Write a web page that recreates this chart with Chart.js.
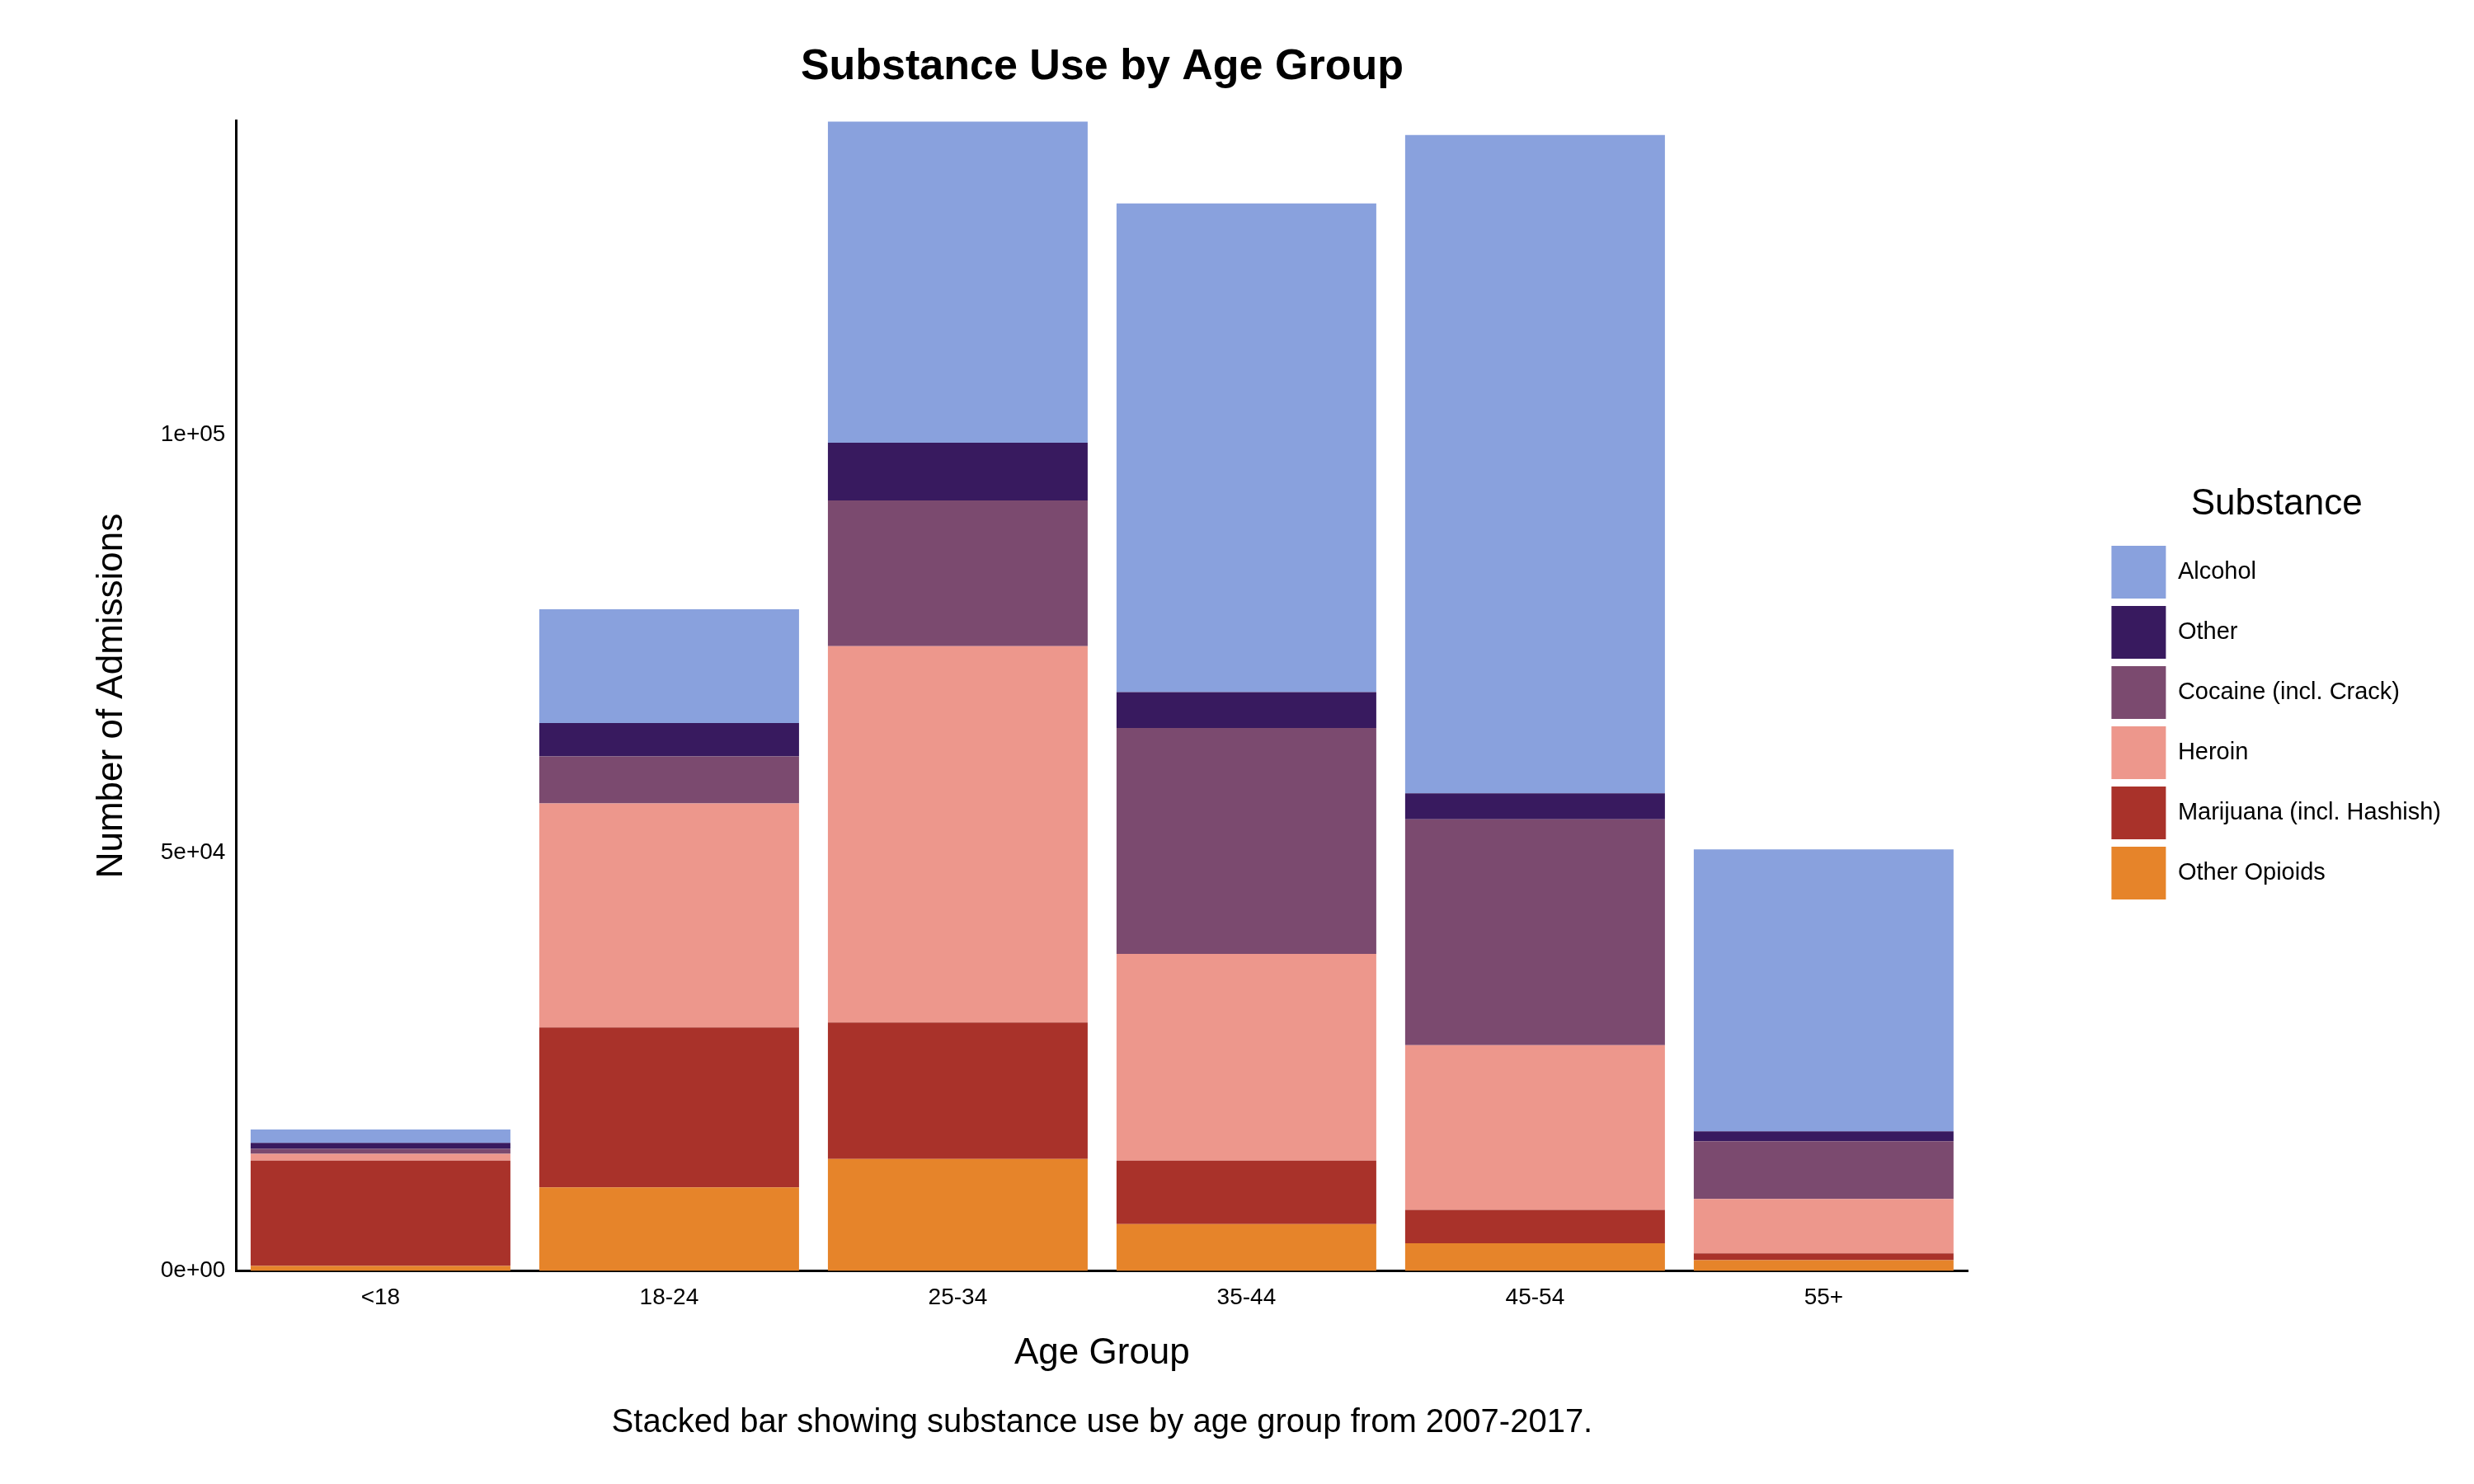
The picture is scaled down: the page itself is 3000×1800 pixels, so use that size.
<!DOCTYPE html>
<html><head><meta charset="utf-8">
<script src="https://cdn.jsdelivr.net/npm/chart.js@4"></script>
<style>html,body{margin:0;padding:0;background:#fff}#wrap{width:3000px;height:1800px}</style>
</head><body><div id="wrap"><canvas id="c" width="3000" height="1800"></canvas></div>
<script>
const categories = ["<18","18-24","25-34","35-44","45-54","55+"];
const otherOpioids = [600,10000,13400,5600,3300,1300];
const marijuana = [12600,19100,16300,7600,4000,800];
const heroin = [800,26800,45000,24700,19700,6500];
const cocaine = [600,5600,17400,27000,27000,6900];
const other = [700,4000,6900,4300,3100,1200];
const alcohol = [1600,13600,38400,58400,78700,33700];
const yTicks = [0,50000,100000];
const yTickLabels = ["0e+00","5e+04","1e+05"];

const EXTRA = 165;
const F = "'Liberation Sans', Arial, sans-serif";
const layoutFix = {
  id: 'layoutFix',
  beforeInit(chart) {
    const lg = chart.legend;
    const origFit = lg.fit;
    lg.fit = function () { origFit.call(this); this.width += EXTRA; this.minSize && (this.minSize.width = this.width); };
  },
  afterLayout(chart) {
    const lg = chart.legend;
    lg.left += EXTRA; lg.width -= EXTRA;
    lg.top -= 50; lg.bottom -= 50;
    const ca = chart.chartArea;
    chart.boxes.forEach(b => {
      if (b.options && b.options.text && (b.position === 'top' || b.position === 'bottom') && !b.axis) {
        b.left = ca.left; b.right = ca.right; b.width = ca.right - ca.left;
      }
    });
  }
};
const ds = (label, data, color) => ({label, data, backgroundColor: color, borderWidth: 0, barPercentage: 0.9, categoryPercentage: 1});
new Chart(document.getElementById('c'), {
  type: 'bar',
  data: { labels: categories, datasets: [
    ds("Other Opioids", otherOpioids, "#E6842A"),
    ds("Marijuana (incl. Hashish)", marijuana, "#A9322A"),
    ds("Heroin", heroin, "#ED978C"),
    ds("Cocaine (incl. Crack)", cocaine, "#7B4A6F"),
    ds("Other", other, "#381A5F"),
    ds("Alcohol", alcohol, "#89A1DD")
  ]},
  plugins: [layoutFix],
  options: {
    responsive: false, devicePixelRatio: 1, animation: false,
    layout: { padding: { left: 105, right: 30, top: 30, bottom: 40 } },
    plugins: {
      title: { display: true, text: "Substance Use by Age Group", color: "#000", font: { family: F, size: 52, weight: 'bold' }, padding: { top: 20, bottom: 34 } },
      subtitle: { display: true, position: 'bottom', text: "Stacked bar showing substance use by age group from 2007-2017.", color: "#000", font: { family: F, size: 40 }, padding: { top: 30, bottom: 10 } },
      legend: { position: 'right', reverse: true,
        title: { display: true, text: "Substance", color: "#000", font: { family: F, size: 44 }, padding: { bottom: 10 } },
        labels: { boxWidth: 66, boxHeight: 64, padding: 9, color: "#000", font: { family: F, size: 29 } } },
      tooltip: { enabled: false }
    },
    scales: {
      x: { stacked: true, grid: { display: false, drawTicks: true, tickLength: 10 },
        border: { color: "#000", width: 3 },
        ticks: { color: "#000", font: { family: F, size: 28 }, padding: 6 },
        title: { display: true, text: "Age Group", color: "#000", font: { family: F, size: 44 }, padding: { top: 18 } } },
      y: { stacked: true, min: 0, max: 137500,
        grid: { display: false, drawTicks: true, tickLength: 10 },
        border: { color: "#000", width: 3 },
        afterBuildTicks: s => { s.ticks = yTicks.map(v => ({value: v})); },
        ticks: { color: "#000", font: { family: F, size: 28 }, callback: (v) => yTickLabels[yTicks.indexOf(v)] },
        title: { display: true, text: "Number of Admissions", color: "#000", font: { family: F, size: 44 }, padding: { bottom: 30 } } }
    }
  }
});
</script></body></html>
